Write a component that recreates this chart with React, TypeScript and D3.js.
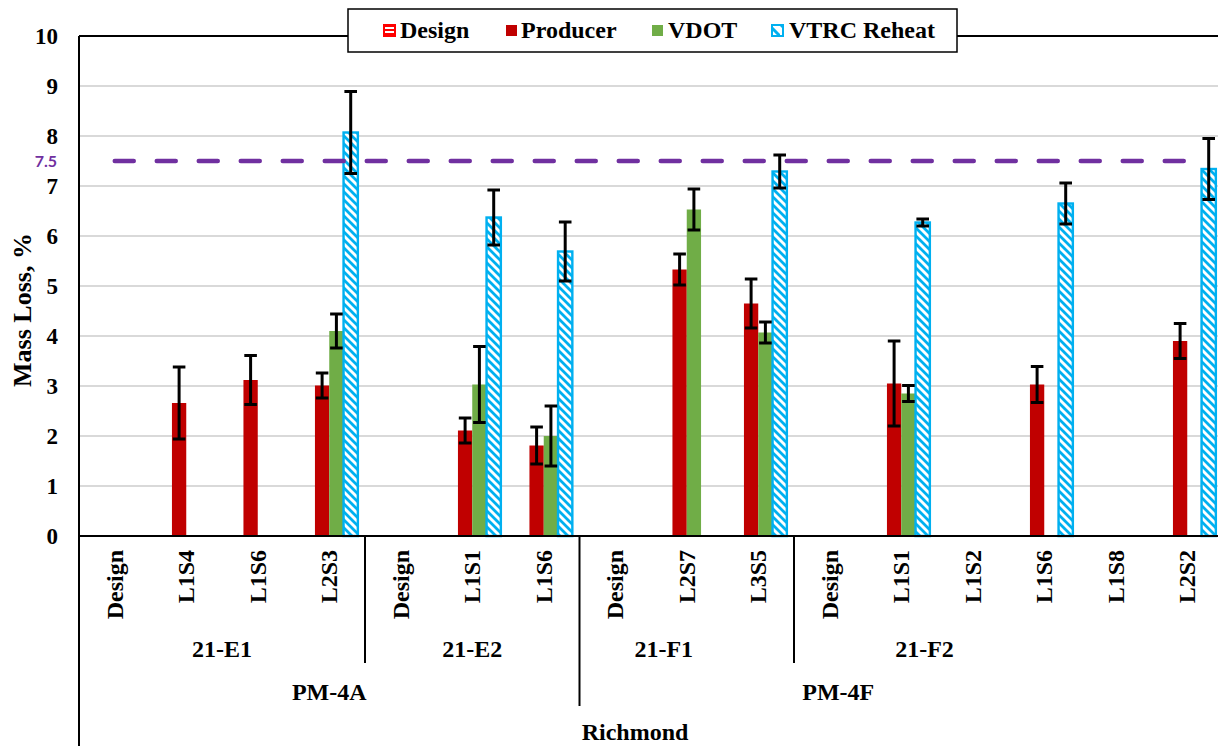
import React from "react";
import * as d3 from "d3";

// ---- data ----
const subCategories = [
  "Design", "L1S4", "L1S6", "L2S3",
  "Design", "L1S1", "L1S6",
  "Design", "L2S7", "L3S5",
  "Design", "L1S1", "L1S2", "L1S6", "L1S8", "L2S2",
];
const mixNames = ["21-E1", "21-E2", "21-F1", "21-F2"];
const mixSizes = [4, 3, 3, 6];
const gradeNames = ["PM-4A", "PM-4F"];
const gradeMixCounts = [2, 2];
const districtName = "Richmond";

const seriesNames = ["Design", "Producer", "VDOT", "VTRC Reheat"];

const designValues: (number | null)[] = [null, null, null, null, null, null, null, null, null, null, null, null, null, null, null, null];
const designErr: (number | null)[] = [null, null, null, null, null, null, null, null, null, null, null, null, null, null, null, null];

const producerValues: (number | null)[] = [null, 2.66, 3.12, 3.01, null, 2.11, 1.81, null, 5.33, 4.65, null, 3.05, null, 3.03, null, 3.9];
const producerErr: (number | null)[] = [null, 0.72, 0.49, 0.25, null, 0.25, 0.37, null, 0.31, 0.49, null, 0.85, null, 0.36, null, 0.35];

const vdotValues: (number | null)[] = [null, null, null, 4.1, null, 3.03, 2.0, null, 6.53, 4.07, null, 2.85, null, null, null, null];
const vdotErr: (number | null)[] = [null, null, null, 0.34, null, 0.76, 0.6, null, 0.41, 0.21, null, 0.16, null, null, null, null];

const vtrcValues: (number | null)[] = [null, null, null, 8.07, null, 6.37, 5.69, null, null, 7.29, null, 6.27, null, 6.65, null, 7.34];
const vtrcErr: (number | null)[] = [null, null, null, 0.82, null, 0.55, 0.59, null, null, 0.33, null, 0.07, null, 0.41, null, 0.61];

const specLimit = 7.5;
const yTicks = [0, 1, 2, 3, 4, 5, 6, 7, 8, 9, 10];

// ---- layout ----
const W = 1218;
const H = 746;
const plot = { left: 79, top: 36, bottom: 536, step: 71.5 };
const SERIF = "'Liberation Serif', 'Times New Roman', serif";
const FS = 24;

const COLORS = {
  design: "#FF0000",
  producer: "#C00000",
  vdot: "#70AD47",
  vtrc: "#00B0F0",
  limit: "#7030A0",
  grid: "#D9D9D9",
};

// horizontal nudges of the multi-level group captions (px)
const mixLabelNudge = [0, 0, -23, -84];
const gradeLabelNudge = [0, -63];
const districtNudge = -16;

export default function App() {
  const idx = subCategories.map((_, i) => i);
  const x = d3
    .scaleBand<number>()
    .domain(idx)
    .range([plot.left, plot.left + plot.step * subCategories.length])
    .padding(0);
  const sub = d3
    .scaleBand<string>()
    .domain(seriesNames)
    .range([0, x.bandwidth()])
    .paddingInner(0)
    .paddingOuter(0.5);
  const y = d3.scaleLinear().domain([0, 10]).range([plot.bottom, plot.top]);

  const right = x.range()[1];

  const series = [
    { name: "Design", values: designValues, err: designErr, fill: "url(#hstripe)", stroke: COLORS.design },
    { name: "Producer", values: producerValues, err: producerErr, fill: COLORS.producer, stroke: "none" },
    { name: "VDOT", values: vdotValues, err: vdotErr, fill: COLORS.vdot, stroke: "none" },
    { name: "VTRC Reheat", values: vtrcValues, err: vtrcErr, fill: "url(#diag)", stroke: COLORS.vtrc },
  ];

  // group boundaries (in category index units)
  const mixStarts: number[] = [];
  mixSizes.reduce((acc, s) => {
    mixStarts.push(acc);
    return acc + s;
  }, 0);
  const gradeStarts: number[] = [];
  const gradeEnds: number[] = [];
  {
    let m = 0;
    gradeMixCounts.forEach((c) => {
      gradeStarts.push(mixStarts[m]);
      const last = m + c - 1;
      gradeEnds.push(mixStarts[last] + mixSizes[last]);
      m += c;
    });
  }
  const catEdge = (i: number) => plot.left + plot.step * i;

  const limitLine = d3
    .line<number>()
    .x((i) => (x(i) as number) + x.bandwidth() / 2)
    .y(() => y(specLimit));

  const legendItems = [
    { name: "Design", sx: 383, tx: 400, fill: "url(#hstripeLegend)", stroke: COLORS.design },
    { name: "Producer", sx: 505, tx: 521, fill: COLORS.producer, stroke: "none" },
    { name: "VDOT", sx: 651, tx: 668, fill: COLORS.vdot, stroke: "none" },
    { name: "VTRC Reheat", sx: 771, tx: 789, fill: "url(#diagLegend)", stroke: COLORS.vtrc },
  ];

  return (
    <svg
      width={W}
      height={H}
      viewBox={`0 0 ${W} ${H}`}
      style={{ position: "fixed", left: 0, top: 0, background: "#fff" }}
      fontFamily={SERIF}
    >
      <defs>
        <pattern id="diag" patternUnits="userSpaceOnUse" width="8" height="8">
          <rect width="8" height="8" fill="#fff" />
          <path d="M-2,-2 L10,10 M-2,6 L2,10 M6,-2 L10,2" stroke={COLORS.vtrc} strokeWidth="2.8" />
        </pattern>
        <pattern id="diagLegend" patternUnits="userSpaceOnUse" width="12" height="12">
          <rect width="12" height="12" fill="#fff" />
          <path d="M-3,-3 L15,15" stroke={COLORS.vtrc} strokeWidth="3" />
        </pattern>
        <pattern id="hstripe" patternUnits="userSpaceOnUse" width="8" height="6">
          <rect width="8" height="6" fill="#fff" />
          <rect y="0" width="8" height="3" fill={COLORS.design} />
        </pattern>
        <pattern id="hstripeLegend" patternUnits="userSpaceOnUse" width="12" height="4" y="1">
          <rect width="12" height="4" fill="#fff" />
          <rect y="0" width="12" height="2" fill={COLORS.design} />
        </pattern>
      </defs>

      <rect width={W} height={H} fill="#fff" />

      {/* gridlines */}
      {yTicks
        .filter((t) => t > 0 && t < 10)
        .map((t) => (
          <line key={t} x1={plot.left} x2={right} y1={y(t)} y2={y(t)} stroke={COLORS.grid} strokeWidth={2} />
        ))}

      {/* y tick labels */}
      {yTicks.map((t) => (
        <text key={t} x={58} y={y(t)} dy="0.34em" textAnchor="end" fontSize={23} fontWeight="bold" fill="#000">
          {t}
        </text>
      ))}
      <text
        x={57}
        y={y(specLimit)}
        dy="0.36em"
        textAnchor="end"
        fontFamily="Lato, 'Open Sans', sans-serif"
        fontSize={16}
        fontWeight="bold"
        fill={COLORS.limit}
      >
        {specLimit}
      </text>

      {/* y axis title */}
      <text
        transform={`translate(31, ${310}) rotate(-90)`}
        textAnchor="middle"
        fontSize={26}
        fontWeight="bold"
        fill="#000"
      >
        Mass Loss, %
      </text>

      {/* bars */}
      {series.map((s) =>
        s.values.map((v, i) =>
          v == null ? null : (
            <rect
              key={`${s.name}-${i}`}
              x={(x(i) as number) + (sub(s.name) as number)}
              y={y(v)}
              width={sub.bandwidth()}
              height={y(0) - y(v)}
              fill={s.fill}
              stroke={s.stroke}
              strokeWidth={s.stroke === "none" ? 0 : 2.4}
            />
          )
        )
      )}

      {/* spec limit line */}
      <path
        d={limitLine(idx) as string}
        fill="none"
        stroke={COLORS.limit}
        strokeWidth={4.5}
        strokeDasharray="19 23"
        strokeLinecap="round"
      />

      {/* error bars */}
      {series.map((s) =>
        s.values.map((v, i) => {
          const e = s.err[i];
          if (v == null || e == null) return null;
          const cx = (x(i) as number) + (sub(s.name) as number) + sub.bandwidth() / 2;
          const y1 = y(v + e);
          const y2 = y(v - e);
          return (
            <g key={`err-${s.name}-${i}`} stroke="#000" strokeWidth={3}>
              <line x1={cx} x2={cx} y1={y1} y2={y2} />
              <line x1={cx - 6.3} x2={cx + 6.3} y1={y1} y2={y1} />
              <line x1={cx - 6.3} x2={cx + 6.3} y1={y2} y2={y2} />
            </g>
          );
        })
      )}

      {/* plot frame: top edge, left axis, category axis */}
      <line x1={plot.left} x2={right} y1={plot.top} y2={plot.top} stroke="#000" strokeWidth={2} />
      <line x1={plot.left} x2={plot.left} y1={plot.top} y2={H} stroke="#000" strokeWidth={2} />
      <line x1={plot.left} x2={right} y1={plot.bottom} y2={plot.bottom} stroke="#000" strokeWidth={2} />

      {/* multi-level category axis */}
      {subCategories.map((c, i) => (
        <text
          key={`sc-${i}`}
          transform={`translate(${(x(i) as number) + x.bandwidth() / 2}, 550) rotate(-90)`}
          textAnchor="end"
          dy="0.33em"
          fontSize={FS}
          fontWeight="bold"
          fill="#000"
        >
          {c}
        </text>
      ))}
      {mixStarts.slice(1).map((s, k) =>
        gradeStarts.includes(s) ? null : (
          <line key={`md-${k}`} x1={catEdge(s)} x2={catEdge(s)} y1={plot.bottom} y2={663} stroke="#000" strokeWidth={2} />
        )
      )}
      {gradeStarts.slice(1).map((s, k) => (
        <line key={`gd-${k}`} x1={catEdge(s)} x2={catEdge(s)} y1={plot.bottom} y2={706} stroke="#000" strokeWidth={2} />
      ))}
      {mixNames.map((m, k) => (
        <text
          key={`mx-${k}`}
          x={(catEdge(mixStarts[k]) + catEdge(mixStarts[k] + mixSizes[k])) / 2 + mixLabelNudge[k]}
          y={657}
          textAnchor="middle"
          fontSize={FS}
          fontWeight="bold"
          fill="#000"
        >
          {m}
        </text>
      ))}
      {gradeNames.map((g, k) => (
        <text
          key={`gr-${k}`}
          x={(catEdge(gradeStarts[k]) + catEdge(gradeEnds[k])) / 2 + gradeLabelNudge[k]}
          y={700}
          textAnchor="middle"
          fontSize={FS}
          fontWeight="bold"
          fill="#000"
        >
          {g}
        </text>
      ))}
      <text
        x={(plot.left + right) / 2 + districtNudge}
        y={740}
        textAnchor="middle"
        fontSize={FS}
        fontWeight="bold"
        fill="#000"
      >
        {districtName}
      </text>

      {/* legend */}
      <rect x={348} y={9} width={609} height={43} fill="#fff" stroke="#000" strokeWidth={1.5} />
      {legendItems.map((it) => (
        <g key={it.name}>
          <rect
            x={it.sx + 1}
            y={25}
            width={11}
            height={11}
            fill={it.fill}
            stroke={it.stroke}
            strokeWidth={it.stroke === "none" ? 0 : 2}
          />
          <text x={it.tx} y={38} fontSize={FS} fontWeight="bold" fill="#000">
            {it.name}
          </text>
        </g>
      ))}
    </svg>
  );
}
